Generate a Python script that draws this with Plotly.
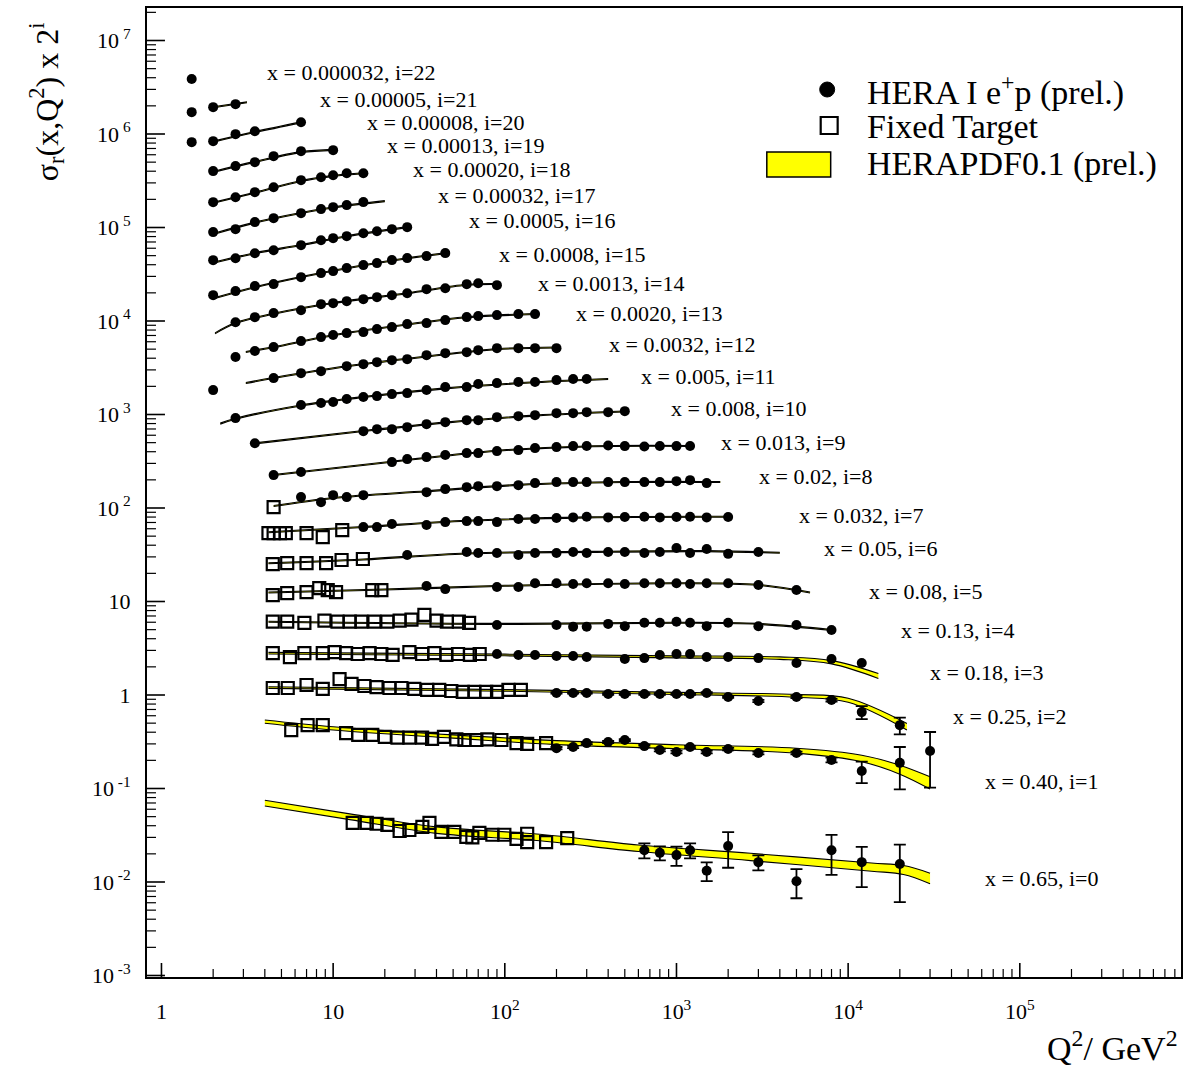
import math
import plotly.graph_objects as go

# ------------------------------------------------------------------ DATA
# reduced cross section sigma_r (un-scaled); plotted value = sigma_r * 2**i
# --- HERA I e+p points
hera_q2_0 = [650, 800, 1000, 1200, 1500, 2000, 3000, 5000, 8000, 12000, 20000]
hera_sr_0 = [0.0219, 0.0205, 0.0194, 0.0219, 0.0132, 0.0242, 0.0163, 0.0102, 0.0219, 0.0163, 0.0156]
hera_err_0 = [0.004, 0.0035, 0.0045, 0.004, 0.003, 0.010, 0.003, 0.0035, 0.010, 0.0075, 0.0095]

hera_q2_1 = [200, 250, 300, 400, 500, 650, 800, 1000, 1200, 1500, 2000, 3000, 5000, 8000, 12000, 20000, 30000]
hera_sr_1 = [0.135, 0.139, 0.153, 0.157, 0.165, 0.142, 0.129, 0.123, 0.139, 0.123, 0.132, 0.120, 0.120, 0.101, 0.077, 0.094, 0.126]
hera_err_1 = [0.004, 0.004, 0.004, 0.004, 0.004, 0.004, 0.004, 0.004, 0.004, 0.004, 0.004, 0.004, 0.004, 0.006, 0.020, 0.045, 0.075]

hera_q2_2 = [200, 250, 300, 400, 500, 650, 800, 1000, 1200, 1500, 2000, 3000, 5000, 8000, 12000, 20000]
hera_sr_2 = [0.263, 0.263, 0.263, 0.256, 0.256, 0.256, 0.256, 0.256, 0.256, 0.263, 0.238, 0.216, 0.238, 0.221, 0.164, 0.119]
hera_err_2 = [0.005, 0.005, 0.005, 0.005, 0.005, 0.005, 0.005, 0.005, 0.005, 0.005, 0.005, 0.006, 0.007, 0.008, 0.026, 0.024]

hera_q2_3 = [90, 120, 150, 200, 250, 300, 500, 650, 800, 1000, 1200, 1500, 2000, 3000, 5000, 8000, 12000]
hera_sr_3 = [0.343, 0.335, 0.335, 0.326, 0.326, 0.318, 0.303, 0.31, 0.335, 0.343, 0.343, 0.318, 0.318, 0.31, 0.275, 0.303, 0.275]

hera_q2_4 = [90, 200, 250, 300, 400, 500, 650, 800, 1000, 1200, 1500, 2000, 3000, 5000, 8000]
hera_sr_4 = [0.35, 0.35, 0.335, 0.335, 0.36, 0.34, 0.37, 0.37, 0.38, 0.37, 0.34, 0.37, 0.34, 0.35, 0.31]

hera_q2_5 = [35, 45, 90, 120, 150, 200, 250, 300, 400, 500, 650, 800, 1000, 1200, 1500, 2000, 3000, 5000]
hera_sr_5 = [0.457, 0.424, 0.446, 0.446, 0.49, 0.49, 0.48, 0.49, 0.49, 0.48, 0.49, 0.49, 0.49, 0.48, 0.49, 0.49, 0.47, 0.414]

hera_q2_6 = [27, 60, 70, 90, 120, 150, 200, 250, 300, 400, 500, 650, 800, 1000, 1200, 1500, 2000, 3000]
hera_sr_6 = [0.491, 0.528, 0.516, 0.516, 0.491, 0.516, 0.516, 0.528, 0.516, 0.528, 0.528, 0.516, 0.528, 0.583, 0.516, 0.569, 0.505, 0.528]

hera_q2_7 = [15, 18, 22, 35, 45, 60, 70, 90, 120, 150, 200, 250, 300, 400, 500, 650, 800, 1000, 1200, 1500, 2000]
hera_sr_7 = [0.488, 0.488, 0.526, 0.513, 0.552, 0.566, 0.566, 0.552, 0.595, 0.595, 0.61, 0.62, 0.63, 0.62, 0.625, 0.63, 0.62, 0.625, 0.63, 0.62, 0.625]

hera_q2_8 = [6.5, 8.5, 10, 12, 15, 35, 45, 60, 70, 90, 120, 150, 200, 250, 300, 400, 500, 650, 800, 1000, 1200, 1500]
hera_sr_8 = [0.511, 0.451, 0.536, 0.511, 0.536, 0.577, 0.622, 0.653, 0.669, 0.669, 0.686, 0.721, 0.739, 0.739, 0.739, 0.739, 0.739, 0.739, 0.739, 0.757, 0.776, 0.721]

hera_q2_9 = [4.5, 6.5, 22, 27, 35, 45, 60, 70, 90, 120, 150, 200, 250, 300, 400, 500, 650, 800, 1000, 1200]
hera_sr_9 = [0.439, 0.473, 0.605, 0.651, 0.684, 0.719, 0.755, 0.755, 0.793, 0.813, 0.854, 0.875, 0.897, 0.90, 0.91, 0.897, 0.89, 0.90, 0.897, 0.90]

hera_q2_10 = [3.5, 15, 18, 22, 27, 35, 45, 60, 70, 90, 120, 150, 200, 250, 300, 400, 500]
hera_sr_10 = [0.482, 0.648, 0.681, 0.681, 0.715, 0.770, 0.809, 0.850, 0.850, 0.915, 0.938, 0.961, 1.01, 1.01, 1.035, 1.035, 1.061]

hera_q2_11 = [2.7, 6.5, 8.5, 10, 12, 15, 18, 22, 27, 35, 45, 60, 70, 90, 120, 150, 200, 250, 300]
hera_sr_11 = [0.447, 0.616, 0.647, 0.663, 0.714, 0.750, 0.768, 0.807, 0.827, 0.891, 0.959, 0.959, 1.033, 1.058, 1.085, 1.085, 1.139, 1.168, 1.168]

hera_q2_12 = [2, 4.5, 6.5, 8.5, 12, 15, 18, 22, 27, 35, 45, 60, 70, 90, 120, 150, 200]
hera_sr_12 = [0.445, 0.598, 0.676, 0.710, 0.803, 0.844, 0.886, 0.931, 0.954, 1.053, 1.106, 1.134, 1.191, 1.251, 1.251, 1.251, 1.251]

hera_q2_13 = [2.7, 3.5, 4.5, 6.5, 8.5, 10, 12, 15, 18, 22, 27, 35, 45, 60, 70, 90, 120, 150]
hera_sr_13 = [0.502, 0.582, 0.642, 0.744, 0.821, 0.863, 0.906, 0.929, 1.0, 1.05, 1.131, 1.159, 1.248, 1.344, 1.377, 1.412, 1.447, 1.447]

hera_q2_14 = [2.7, 3.5, 4.5, 6.5, 8.5, 10, 12, 15, 18, 22, 27, 35, 45, 60, 70, 90]
hera_sr_14 = [0.593, 0.671, 0.741, 0.797, 0.924, 0.947, 0.995, 1.045, 1.098, 1.153, 1.211, 1.337, 1.370, 1.512, 1.549, 1.476]

hera_q2_15 = [2, 2.7, 3.5, 4.5, 6.5, 8.5, 10, 12, 15, 18, 22, 27, 35, 45]
hera_sr_15 = [0.577, 0.637, 0.721, 0.757, 0.899, 0.993, 1.043, 1.123, 1.209, 1.270, 1.367, 1.436, 1.508, 1.624]

hera_q2_16 = [2, 2.7, 3.5, 4.5, 6.5, 8.5, 10, 12, 15, 18, 22, 27]
hera_sr_16 = [0.683, 0.717, 0.811, 0.873, 0.988, 1.117, 1.174, 1.233, 1.327, 1.394, 1.465, 1.539]

hera_q2_17 = [2, 2.7, 3.5, 4.5, 6.5, 8.5, 10, 12, 15]
hera_sr_17 = [0.681, 0.733, 0.871, 0.961, 1.087, 1.200, 1.260, 1.324, 1.426]

hera_q2_18 = [2, 2.7, 3.5, 4.5, 6.5, 8.5, 10, 12, 15]
hera_sr_18 = [0.712, 0.805, 0.911, 1.03, 1.224, 1.317, 1.384, 1.454, 1.454]

hera_q2_19 = [2, 2.7, 3.5, 4.5, 6.5, 10]
hera_sr_19 = [0.765, 0.865, 0.954, 1.106, 1.251, 1.282]

hera_q2_20 = [1.5, 2, 2.7, 3.5, 6.5]
hera_sr_20 = [0.78, 0.80, 0.95, 1.02, 1.276]

hera_q2_21 = [1.5, 2, 2.7]
hera_sr_21 = [0.817, 0.924, 0.995]

hera_q2_22 = [1.5]
hera_sr_22 = [0.922]

# --- Fixed target points
ft_q2_0 = [13.0, 15.7, 17.9, 20.7, 24.4, 27.8, 33.1, 36.4, 42.7, 50.8, 59.7, 64.7, 71.1, 84.6, 99.4, 117, 135, 135, 174, 231]
ft_sr_0 = [0.0428, 0.0428, 0.0420, 0.0408, 0.0351, 0.0360, 0.0389, 0.0428, 0.0343, 0.0343, 0.0304, 0.0300, 0.0335, 0.0320, 0.0320, 0.0289, 0.0328, 0.0267, 0.0267, 0.0295]

ft_q2_1 = [5.7, 7.1, 8.7, 11.9, 14.0, 16.9, 20.0, 23.7, 27.8, 33.0, 37.7, 44.2, 52.2, 58.2, 68.3, 79.1, 95.5, 117, 135, 174]
ft_sr_1 = [0.211, 0.238, 0.238, 0.196, 0.187, 0.187, 0.178, 0.175, 0.175, 0.175, 0.170, 0.178, 0.168, 0.165, 0.165, 0.168, 0.165, 0.153, 0.150, 0.153]

ft_q2_2 = [4.45, 5.44, 7.0, 8.7, 10.9, 12.8, 15.2, 17.9, 21.3, 25.0, 29.7, 35.3, 41.5, 48.8, 56.9, 66.5, 77.9, 90.1, 105, 124]
ft_sr_2 = [0.297, 0.297, 0.32, 0.29, 0.37, 0.328, 0.312, 0.304, 0.297, 0.297, 0.29, 0.283, 0.283, 0.276, 0.27, 0.27, 0.27, 0.27, 0.283, 0.283]

ft_q2_3 = [4.45, 5.6, 6.8, 8.7, 10.2, 11.9, 13.9, 16.3, 19.1, 22.2, 27.8, 33.0, 38.9, 45.7, 53.4, 62.6, 71.4]
ft_sr_3 = [0.351, 0.318, 0.351, 0.351, 0.36, 0.351, 0.343, 0.351, 0.343, 0.335, 0.36, 0.343, 0.351, 0.335, 0.343, 0.335, 0.343]

ft_q2_4 = [4.45, 5.4, 6.8, 8.9, 10.6, 12.5, 14.6, 17.4, 20.7, 24.4, 28.6, 34, 40, 46, 54, 62]
ft_sr_4 = [0.38, 0.38, 0.37, 0.39, 0.38, 0.38, 0.38, 0.38, 0.38, 0.39, 0.40, 0.45, 0.39, 0.38, 0.38, 0.37]

ft_q2_5 = [4.45, 5.4, 7.0, 8.3, 9.3, 10.4, 16.9, 19.1]
ft_sr_5 = [0.366, 0.385, 0.394, 0.435, 0.414, 0.394, 0.414, 0.414]

ft_q2_6 = [4.45, 5.4, 7.0, 9.1, 11.2, 14.9]
ft_sr_6 = [0.393, 0.403, 0.403, 0.403, 0.434, 0.445]

ft_q2_7 = [4.2, 4.5, 4.9, 5.3, 7.0, 8.7, 11.3]
ft_sr_7 = [0.421, 0.421, 0.421, 0.421, 0.421, 0.382, 0.454]

ft_q2_8 = [4.5]
ft_sr_8 = [0.40]

# --- HERAPDF0.1 curves (central value, relative half width of band)
curve_q2_0 = [4.0, 12.5, 40, 160, 600, 2700, 13700, 21000, 30000]
curve_sr_0 = [0.070, 0.050, 0.036, 0.030, 0.023, 0.0186, 0.0145, 0.0135, 0.011]
curve_err_0 = [0.07, 0.07, 0.08, 0.08, 0.08, 0.09, 0.10, 0.11, 0.13]

curve_q2_1 = [4.0, 10, 50, 200, 1000, 5000, 12000, 20000, 30000]
curve_sr_1 = [0.26, 0.22, 0.18, 0.155, 0.14, 0.127, 0.105, 0.08, 0.058]
curve_err_1 = [0.04, 0.04, 0.04, 0.05, 0.05, 0.06, 0.08, 0.11, 0.15]

curve_q2_2 = [4.2, 100, 1000, 5000, 10000, 22000]
curve_sr_2 = [0.30, 0.28, 0.26, 0.245, 0.22, 0.115]
curve_err_2 = [0.02, 0.02, 0.025, 0.035, 0.05, 0.08]

curve_q2_3 = [4.2, 100, 1000, 4000, 8000, 15000]
curve_sr_3 = [0.35, 0.335, 0.32, 0.31, 0.28, 0.20]
curve_err_3 = [0.02, 0.02, 0.025, 0.03, 0.04, 0.06]

curve_q2_4 = [4.2, 100, 1000, 3000, 8000]
curve_sr_4 = [0.38, 0.36, 0.37, 0.36, 0.31]
curve_q2_5 = [4.2, 20, 100, 1000, 3000, 6000]
curve_sr_5 = [0.39, 0.42, 0.46, 0.49, 0.47, 0.39]
curve_q2_6 = [4.2, 15, 60, 300, 1500, 4000]
curve_sr_6 = [0.40, 0.44, 0.51, 0.53, 0.54, 0.52]
curve_q2_7 = [4.2, 15, 60, 300, 2000]
curve_sr_7 = [0.43, 0.49, 0.57, 0.62, 0.63]
curve_q2_8 = [4.5, 10, 35, 120, 500, 1800]
curve_sr_8 = [0.41, 0.50, 0.59, 0.69, 0.74, 0.74]
curve_q2_9 = [4.5, 22, 90, 300, 1200]
curve_sr_9 = [0.44, 0.61, 0.80, 0.89, 0.90]
curve_q2_10 = [3.5, 15, 45, 150, 500]
curve_sr_10 = [0.48, 0.65, 0.80, 0.95, 1.05]
curve_q2_11 = [2.2, 2.7, 6.5, 15, 45, 150, 400]
curve_sr_11 = [0.39, 0.44, 0.61, 0.75, 0.93, 1.08, 1.17]
curve_q2_12 = [3.1, 4.5, 12, 35, 90, 200]
curve_sr_12 = [0.53, 0.60, 0.80, 1.02, 1.22, 1.27]
curve_q2_13 = [3.1, 4.5, 10, 27, 60, 150]
curve_sr_13 = [0.57, 0.64, 0.86, 1.12, 1.34, 1.45]
curve_q2_14 = [2.05, 2.7, 4.5, 10, 27, 60, 90]
curve_sr_14 = [0.45, 0.58, 0.73, 0.95, 1.21, 1.49, 1.52]
curve_q2_15 = [2, 3.5, 6.5, 12, 27, 45]
curve_sr_15 = [0.53, 0.70, 0.90, 1.12, 1.43, 1.62]
curve_q2_16 = [2, 3.5, 6.5, 12, 27]
curve_sr_16 = [0.64, 0.81, 0.99, 1.23, 1.54]
curve_q2_17 = [2, 3.5, 6.5, 10, 20]
curve_sr_17 = [0.65, 0.86, 1.09, 1.25, 1.46]
curve_q2_18 = [2, 3.5, 6.5, 10, 15]
curve_sr_18 = [0.70, 0.90, 1.20, 1.36, 1.45]
curve_q2_19 = [2, 3.5, 6.5, 10]
curve_sr_19 = [0.75, 0.96, 1.22, 1.29]
curve_q2_20 = [2, 3.5, 6.5]
curve_sr_20 = [0.79, 1.0, 1.27]
curve_q2_21 = [2, 3.15]
curve_sr_21 = [0.92, 1.04]
thin_band_rel = 0.012

series_labels = ["x = 0.65, i=0", "x = 0.40, i=1", "x = 0.25, i=2", "x = 0.18, i=3",
                 "x = 0.13, i=4", "x = 0.08, i=5", "x = 0.05, i=6", "x = 0.032, i=7",
                 "x = 0.02, i=8", "x = 0.013, i=9", "x = 0.008, i=10", "x = 0.005, i=11",
                 "x = 0.0032, i=12", "x = 0.0020, i=13", "x = 0.0013, i=14", "x = 0.0008, i=15",
                 "x = 0.0005, i=16", "x = 0.00032, i=17", "x = 0.00020, i=18", "x = 0.00013, i=19",
                 "x = 0.00008, i=20", "x = 0.00005, i=21", "x = 0.000032, i=22"]

x_tick_vals = [1, 10, 100, 1000, 10000, 100000]
x_tick_text = ["1", "10", "10<sup>2</sup>", "10<sup>3</sup>", "10<sup>4</sup>", "10<sup>5</sup>"]
y_tick_vals = [1e-3, 1e-2, 1e-1, 1, 10, 1e2, 1e3, 1e4, 1e5, 1e6, 1e7]
y_tick_text = ["10<sup> -3</sup>", "10<sup> -2</sup>", "10<sup> -1</sup>", "1", "10",
               "10<sup> 2</sup>", "10<sup> 3</sup>", "10<sup> 4</sup>", "10<sup> 5</sup>",
               "10<sup> 6</sup>", "10<sup> 7</sup>"]

legend_texts = ["HERA I e<sup>+</sup>p (prel.)", "Fixed Target", "HERAPDF0.1 (prel.)"]

# ------------------------------------------------------------------ LAYOUT HELPERS
W, H = 1187, 1072
L, R, T, B = 147, 1183, 8, 977          # plot frame in pixels
X_PX1, X_PX_DEC = 161.5, 172.0          # pixel of Q2=1, pixels per decade
Y_PX1, Y_PX_DEC = 695.0, 93.5
x_range = [(L - X_PX1) / X_PX_DEC, (R - X_PX1) / X_PX_DEC]
y_range = [(Y_PX1 - B) / Y_PX_DEC, (Y_PX1 - T) / Y_PX_DEC]


def pxx(px):
    return (px - L) / (R - L)


def pyy(py):
    return (B - py) / (B - T)


SERIF = "Liberation Serif, Times New Roman, serif"
YELLOW = "#ffff00"

hera = {i: (globals()[f"hera_q2_{i}"], globals()[f"hera_sr_{i}"]) for i in range(23)}
hera_err = {0: hera_err_0, 1: hera_err_1, 2: hera_err_2}
ft = {i: (globals()[f"ft_q2_{i}"], globals()[f"ft_sr_{i}"]) for i in range(9)}
curves = {i: (globals()[f"curve_q2_{i}"], globals()[f"curve_sr_{i}"]) for i in range(22)}
curve_err = {0: curve_err_0, 1: curve_err_1, 2: curve_err_2, 3: curve_err_3}

fig = go.Figure()

# bands
for i, (q, s) in curves.items():
    scale = 2 ** i
    rel = curve_err.get(i, [thin_band_rel] * len(q))
    up = [v * (1 + e) * scale for v, e in zip(s, rel)]
    lo = [v * (1 - e) * scale for v, e in zip(s, rel)]
    fig.add_trace(go.Scatter(x=q, y=up, mode="lines", line=dict(color="black", width=1.1, shape="spline"),
                             showlegend=False, hoverinfo="skip"))
    fig.add_trace(go.Scatter(x=q, y=lo, mode="lines", fill="tonexty", fillcolor=YELLOW,
                             line=dict(color="black", width=1.1, shape="spline"),
                             showlegend=False, hoverinfo="skip"))

# fixed target squares
for i, (q, s) in ft.items():
    fig.add_trace(go.Scatter(x=q, y=[v * 2 ** i for v in s], mode="markers",
                             marker=dict(symbol="square-open", size=12, color="black",
                                         line=dict(color="black", width=2.2)),
                             showlegend=False))

# HERA points
for i, (q, s) in hera.items():
    err = None
    if i in hera_err:
        err = dict(type="data", array=[e * 2 ** i for e in hera_err[i]], color="black",
                   thickness=1.8, width=6)
    fig.add_trace(go.Scatter(x=q, y=[v * 2 ** i for v in s], mode="markers",
                             marker=dict(symbol="circle", size=10, color="black"),
                             error_y=err, showlegend=False))

# series labels (left pixel, centre pixel)
label_pos = [(985, 878), (985, 781), (953, 716), (930, 672), (900, 630), (868, 592), (823, 548),
             (798, 515), (758, 476), (720, 442), (670, 408), (640, 376), (608, 345), (575, 313),
             (537, 283), (498, 255), (468, 221), (437, 195), (412, 169), (385, 146), (365, 123),
             (318, 100), (265, 72)]
annotations = []
for txt, (px, py) in zip(series_labels, label_pos):
    annotations.append(dict(x=pxx(px), y=pyy(py), xref="paper", yref="paper", text=txt,
                            showarrow=False, xanchor="left", yanchor="middle",
                            font=dict(family=SERIF, size=22, color="black")))

# legend texts
for txt, py in zip(legend_texts, [90, 126, 164]):
    annotations.append(dict(x=pxx(866), y=pyy(py), xref="paper", yref="paper", text=txt,
                            showarrow=False, xanchor="left", yanchor="middle",
                            font=dict(family=SERIF, size=34, color="black")))

# axis titles
annotations.append(dict(x=pxx(46), y=pyy(102), xref="paper", yref="paper",
                        text="σ<sub>r</sub>(x,Q<sup>2</sup>) x 2<sup>i</sup>", textangle=-90,
                        showarrow=False, xanchor="center", yanchor="middle",
                        font=dict(family=SERIF, size=32, color="black")))
annotations.append(dict(x=pxx(1182), y=pyy(1046), xref="paper", yref="paper",
                        text="Q<sup>2</sup>/ GeV<sup>2</sup>",
                        showarrow=False, xanchor="right", yanchor="middle",
                        font=dict(family=SERIF, size=34, color="black")))

# axis tick marks drawn as shapes (inside; major longer than minor). Shapes on log axes use data values.
minor_x = [m * 10 ** k for k in range(0, 6) for m in range(2, 10)]
minor_y = [m * 10.0 ** k for k in range(-3, 8) for m in range(2, 10)]
shapes = []
plot_w, plot_h = R - L, B - T
for v, ln in [(v, 14) for v in x_tick_vals] + [(v, 8) for v in minor_x]:
    lv = math.log10(v)
    if x_range[0] <= lv <= x_range[1]:
        shapes.append(dict(type="line", xref="x", yref="paper", x0=v, x1=v, y0=0, y1=ln / plot_h,
                           line=dict(color="black", width=1.6 if ln > 10 else 1.2)))
for v, ln in [(v, 18) for v in y_tick_vals] + [(v, 9) for v in minor_y]:
    lv = math.log10(v)
    if y_range[0] <= lv <= y_range[1]:
        shapes.append(dict(type="line", xref="paper", yref="y", x0=0, x1=ln / plot_w, y0=v, y1=v,
                           line=dict(color="black", width=1.6 if ln > 10 else 1.2)))

shapes += [
    dict(type="circle", xref="paper", yref="paper", x0=pxx(821), x1=pxx(836), y0=pyy(97), y1=pyy(82),
         fillcolor="black", line=dict(color="black", width=1)),
    dict(type="rect", xref="paper", yref="paper", x0=pxx(822), x1=pxx(839), y0=pyy(134), y1=pyy(117),
         fillcolor="rgba(0,0,0,0)", line=dict(color="black", width=2.2)),
    dict(type="rect", xref="paper", yref="paper", x0=pxx(768), x1=pxx(832), y0=pyy(177), y1=pyy(152),
         fillcolor=YELLOW, line=dict(color="black", width=1.5)),
]

fig.update_layout(
    width=W, height=H,
    margin=dict(l=L, r=W - R, t=T, b=H - B),
    paper_bgcolor="white", plot_bgcolor="white",
    showlegend=False,
    annotations=annotations, shapes=shapes,
    xaxis=dict(type="log", range=x_range, tickmode="array", tickvals=x_tick_vals, ticktext=x_tick_text,
               ticks="", showline=True, linewidth=2, linecolor="black", mirror=True,
               showgrid=False, zeroline=False, ticklabelstandoff=14,
               tickfont=dict(family=SERIF, size=22, color="black")),
    yaxis=dict(type="log", range=y_range, tickmode="array", tickvals=y_tick_vals, ticktext=y_tick_text,
               ticks="", showline=True, linewidth=2, linecolor="black", mirror=True,
               showgrid=False, zeroline=False, ticklabelstandoff=10,
               tickfont=dict(family=SERIF, size=22, color="black")),
)

fig.write_html("out.html")
